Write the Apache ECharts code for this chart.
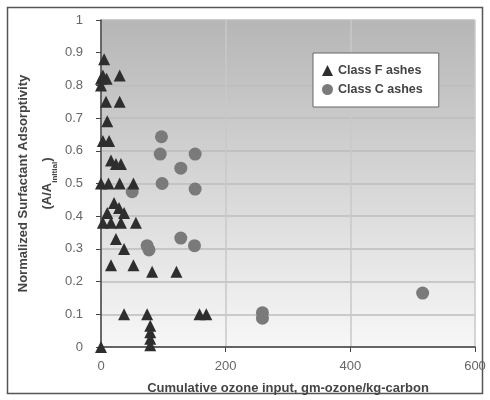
<!DOCTYPE html>
<html><head><meta charset="utf-8">
<script src="https://cdn.jsdelivr.net/npm/echarts@6/dist/echarts.min.js"></script>
<style>html,body{margin:0;padding:0;background:#fff}#c{width:490px;height:400px}</style>
</head><body><div id="c"></div>
<script>
var classF = [
  [5,0.88],[0,0.82],[3,0.83],[9,0.82],[30,0.83],[0,0.80],
  [8,0.75],[30,0.75],[10,0.69],[3,0.63],[13,0.63],
  [16,0.57],[24,0.56],[32,0.56],[0,0.50],[12,0.50],[30,0.50],[52,0.50],
  [21,0.44],[29,0.425],[10,0.41],[37,0.41],
  [3,0.38],[16,0.38],[32,0.38],[56,0.38],[24,0.33],[37,0.30],
  [16,0.25],[52,0.25],[82,0.23],[121,0.23],
  [37,0.10],[74,0.10],[158,0.10],[169,0.10],
  [79,0.065],[79,0.045],[79,0.025],[79,0.005],[0,0]
];
var classC = [
  [97,0.643],[95,0.59],[151,0.59],[128,0.547],[98,0.50],[151,0.483],[50,0.475],
  [74,0.31],[77,0.297],[128,0.333],[150,0.31],
  [259,0.105],[259,0.088],[516,0.165]
];
var xTicks = [0,200,400,600];
var yTicks = [0,0.1,0.2,0.3,0.4,0.5,0.6,0.7,0.8,0.9,1];
var chart = echarts.init(document.getElementById('c'));
var font = 'Liberation Sans, Arial, sans-serif';
chart.setOption({
  animation:false,
  graphic:[{type:'rect',shape:{x:7.5,y:7.5,width:475,height:386},style:{fill:null,stroke:'#555',lineWidth:1.5},z:-10}],
  grid:{left:101,right:15,top:20,bottom:53,show:true,borderWidth:0,containLabel:false,outerBoundsMode:'none',
    backgroundColor:new echarts.graphic.LinearGradient(0,0,0,1,[{offset:0,color:'#b6b6b6'},{offset:1,color:'#f7f7f7'}])},
  xAxis:{type:'value',min:0,max:600,interval:200,
    axisLine:{lineStyle:{color:'#444',width:1.5}},
    axisTick:{show:true,length:5,lineStyle:{color:'#444'}},
    axisLabel:{color:'#666',fontSize:13,fontFamily:font,margin:13},
    splitLine:{show:true,lineStyle:{color:'#c8c8c8',width:1.5}},
    name:'Cumulative ozone input, gm-ozone/kg-carbon',nameLocation:'middle',nameGap:35,nameMoveOverlap:false,
    nameTextStyle:{color:'#444',fontSize:13,fontWeight:'bold',fontFamily:font}},
  yAxis:{type:'value',min:0,max:1,interval:0.1,
    axisLine:{show:true,lineStyle:{color:'#444',width:1.5}},
    axisTick:{show:true,length:5,lineStyle:{color:'#444'}},
    axisLabel:{color:'#666',fontSize:13,fontFamily:font,margin:18,formatter:function(v){return String(Math.round(v*10)/10);}},
    splitLine:{show:true,lineStyle:{color:'#bdbdbd',width:1.5}},
    name:'{a|Normalized Surfactant Adsorptivity}\n{a|(A/A}{s|initial}{a|)}',nameLocation:'middle',nameGap:42,nameMoveOverlap:false,
    nameTextStyle:{rich:{a:{color:'#444',fontSize:13,fontWeight:'bold',fontFamily:font,lineHeight:24},
      s:{color:'#444',fontSize:8,fontWeight:'bold',fontFamily:font,verticalAlign:'bottom',lineHeight:24}}}},
  legend:{orient:'vertical',left:313,top:53,padding:[11,16,11,9],itemGap:6,
    backgroundColor:'#fff',borderColor:'#666',borderWidth:1,itemWidth:11,itemHeight:11,
    textStyle:{color:'#444',fontSize:12.5,fontWeight:'bold',fontFamily:font},
    data:[{name:'Class F ashes',icon:'triangle'},{name:'Class C ashes',icon:'circle'}]},
  series:[
    {name:'Class F ashes',type:'scatter',symbol:'triangle',symbolSize:12,data:classF,
      itemStyle:{color:'#2e2e2e',opacity:1},z:3},
    {name:'Class C ashes',type:'scatter',symbol:'circle',symbolSize:13,data:classC,
      itemStyle:{color:'#7a7a7a',opacity:1},z:2}
  ]
});
</script></body></html>
